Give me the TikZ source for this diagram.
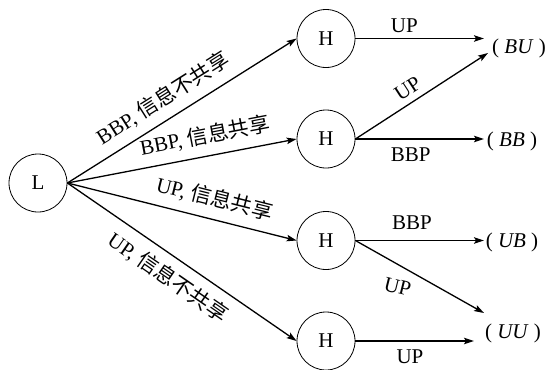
\documentclass[tikz,border=0pt]{standalone}
\usepackage{fontspec}
\setmainfont{Liberation Serif}
\newfontfamily\cjk{Noto Sans CJK SC}
\usetikzlibrary{arrows.meta}
\begin{document}
\begin{tikzpicture}[x=1pt,y=-1pt,
  state/.style={circle,draw,line width=0.8pt,minimum size=58pt,inner sep=0pt,
    font=\fontsize{21}{24}\selectfont},
  move/.style={line width=1.3pt,-{Stealth[length=10pt,width=6.5pt,inset=2pt]}},
  lbl/.style={font=\fontsize{21}{24}\selectfont,inner sep=2pt},
  payoff/.style={font=\fontsize{21}{24}\selectfont,inner sep=0pt}]
\useasboundingbox (0,0) rectangle (547,370);

% players
\node[state] (L)  at (38,183)   {L};
\node[state] (H1) at (326,38.5) {H};
\node[state] (H2) at (326,139)  {H};
\node[state] (H3) at (326,240.5){H};
\node[state] (H4) at (326,341)  {H};

% outcomes
\node[payoff] (BU) at (519,48)  {(\ \textit{BU}\ )};
\node[payoff] (BB) at (512,141) {(\ \textit{BB}\ )};
\node[payoff] (UB) at (512,242) {(\ \textit{UB}\ )};
\node[payoff] (UU) at (513,333) {(\ \textit{UU}\ )};

% arrow ends in front of the outcomes
\coordinate (bu1) at (484,38.5);
\coordinate (bu2) at (488,53);
\coordinate (bb)  at (484,139);
\coordinate (ub)  at (484,240.5);
\coordinate (uu1) at (484,313);
\coordinate (uu2) at (474,341);

% first move by L
\draw[move] (L.east) -- (H1.west)
  node[lbl,sloped,above=7.5pt,pos=0.465] {BBP,\ {\cjk 信息不共享}};
\draw[move] (L.east) -- (H2.west)
  node[lbl,sloped,above=7.5pt,pos=0.617] {BBP,\ {\cjk 信息共享}};
\draw[move] (L.east) -- (H3.west)
  node[lbl,sloped,above=7.5pt,pos=0.62] {UP,\ {\cjk 信息共享}};
\draw[move] (L.east) -- (H4.west)
  node[lbl,sloped,below=7.5pt,pos=0.49] {UP,\ {\cjk 信息不共享}};

% replies by H
\draw[move] (H1.east) -- (bu1) node[lbl,above=3.6pt,pos=0.38] {UP};
\draw[move] (H2.east) -- (bu2) node[lbl,sloped,above=3.9pt,pos=0.45] {UP};
\draw[move] (H2.east) -- (bb)  node[lbl,below=6pt,pos=0.43] {BBP};
\draw[move] (H3.east) -- (ub)  node[lbl,above=8pt,pos=0.44] {BBP};
\draw[move] (H3.east) -- (uu1) node[lbl,rotate=-14,pos=0.43,xshift=-9pt,yshift=-18pt] {UP};
\draw[move] (H4.east) -- (uu2) node[lbl,below=6pt,pos=0.46] {UP};
\end{tikzpicture}
\end{document}
